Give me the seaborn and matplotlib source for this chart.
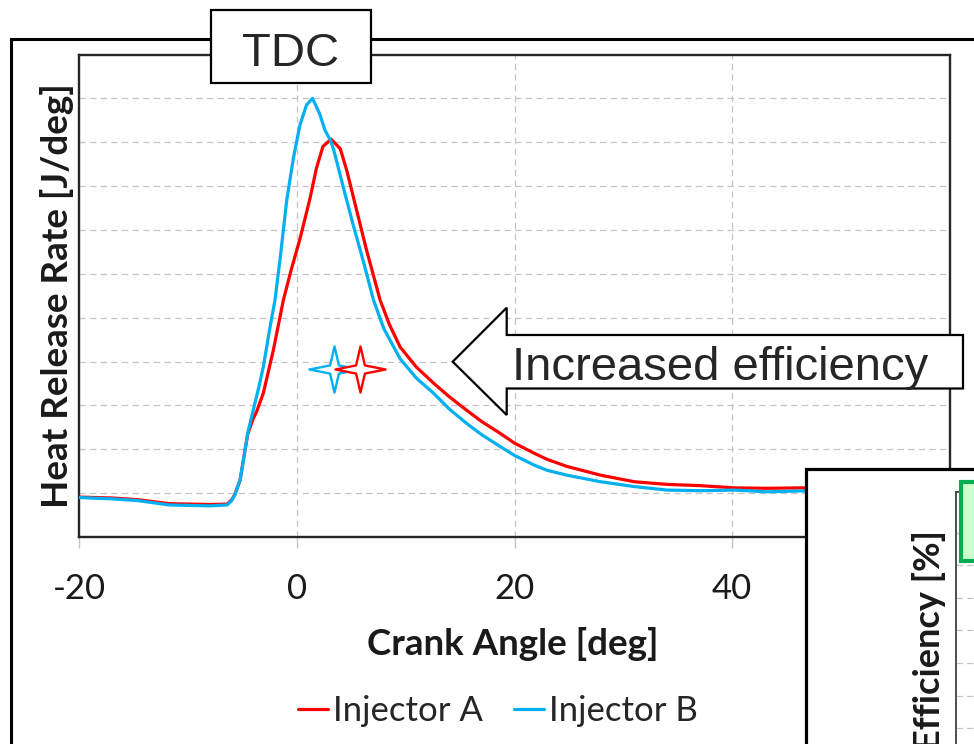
import matplotlib
matplotlib.use("Agg")
import matplotlib.pyplot as plt
from matplotlib.patches import Rectangle, Polygon
from matplotlib.lines import Line2D
from matplotlib.path import Path
import pandas as pd
import seaborn as sns

# heat release rate traces (crank angle [deg], HRR)
crank_a = [-20, -17, -14.6, -11.7, -8, -6.4, -6.0, -5.7, -5.2, -4.75,
           -4.5, -4.0, -3.7, -3.07, -2.15, -1.23, -0.5, 0.3, 1.2, 1.8,
           2.4, 3.15, 4.0, 4.6, 5.5, 6.4, 7.66, 8.5, 9.5, 11.0,
           12.6, 14.0, 15.6, 17.0, 18.7, 20.0, 21.8, 23.0, 24.8, 27.9,
           31.0, 34.0, 37.1, 40.2, 43.2, 46.3, 50, 55, 60]
hrr_a = [-0.9, -1.1, -1.5, -2.4, -2.6, -2.5, -1.6, -0.4, 3.0, 9.8,
         13.5, 17.0, 18.5, 22.8, 32.6, 44.0, 51.0, 58.0, 67.0, 74.0,
         79.0, 80.7, 78.5, 73.5, 64.5, 55.5, 44.0, 38.5, 33.3, 28.7,
         25.0, 22.0, 18.9, 16.3, 13.6, 11.4, 9.1, 7.7, 6.1, 4.1,
         2.6, 2.0, 1.7, 1.2, 1.1, 1.2, 1.0, 0.9, 0.9]

crank_b = [-20, -17, -14.6, -11.7, -8, -6.4, -6.0, -5.7, -5.2, -4.75,
           -4.5, -4.0, -3.5, -3.07, -2.45, -2.0, -1.5, -0.92, -0.3, 0.3,
           0.9, 1.45, 2.1, 2.6, 3.1, 3.4, 4.3, 5.2, 6.1, 7.05,
           8.0, 9.5, 11.0, 12.6, 14.0, 15.6, 17.0, 18.7, 20.0, 21.8,
           23.0, 24.8, 27.9, 31.0, 34.0, 37.1, 40.2, 43.2, 46.3, 50,
           55, 60]
hrr_b = [-1.0, -1.3, -1.7, -2.7, -2.9, -2.7, -1.8, -0.5, 3.0, 9.8,
         13.7, 18.9, 24.0, 28.8, 37.9, 44.0, 54.0, 66.8, 76.5, 84.0,
         88.5, 90.0, 86.5, 82.7, 80.4, 78.2, 69.5, 61.0, 53.0, 44.0,
         37.5, 30.6, 26.2, 22.7, 19.2, 15.9, 13.3, 10.6, 8.6, 6.4,
         5.2, 4.1, 2.6, 1.5, 0.7, 0.55, 0.7, 0.3, 0.5, 0.4,
         0.3, 0.3]

injectors = ["Injector A", "Injector B"]
colors = {"Injector A": "#ff0000", "Injector B": "#00b0f0"}

# star markers (B drawn first, A on top)
star_injector = ["Injector B", "Injector A"]
star_angle = [3.4, 5.8]
star_hrr = [28.3, 28.3]

x_ticks = [-20, 0, 20, 40]
y_grid = [0, 10, 20, 30, 40, 50, 60, 70, 80, 90]
inset_grid = [50, 48, 46, 44, 42, 40, 38, 36, 34, 32, 30, 28, 26, 24, 22]

sns.set_style("white")
plt.rcParams["font.family"] = ["Lato", "DejaVu Sans"]
plt.rcParams["axes.unicode_minus"] = False

W, H = 974, 744


def fx(px):
    return px / W


def fy(py):
    return 1 - py / H


fig = plt.figure(figsize=(W / 100, H / 100), dpi=100)
ax = fig.add_axes([fx(79), fy(537), fx(950) - fx(79), fy(54.5) - fy(537)])

df = pd.concat([
    pd.DataFrame({"angle": crank_a, "hrr": hrr_a, "injector": injectors[0]}),
    pd.DataFrame({"angle": crank_b, "hrr": hrr_b, "injector": injectors[1]}),
])
sns.lineplot(data=df, x="angle", y="hrr", hue="injector", hue_order=injectors,
             palette=colors, estimator=None, sort=False, lw=2.3, ax=ax,
             legend=False, zorder=3)

star = Path.unit_regular_star(4, innerCircle=0.25)
star = Path(star.vertices * [1.0, 0.92], star.codes)
for inj, xa, ya in zip(star_injector, star_angle, star_hrr):
    ax.scatter([xa], [ya], marker=star, s=1300, facecolor="white",
               edgecolor=colors[inj], linewidth=1.7, zorder=4)

ax.set_xlim(-20, 60)
ax.set_ylim(-10, 100)
ax.set_xticks(x_ticks)
ax.set_yticks(y_grid)
ax.set_xlabel("")
ax.set_ylabel("")
ax.grid(True, color="#c4c4c4", lw=0.9, ls=(0, (5, 3.5)))
ax.tick_params(axis="y", length=0, labelleft=False)
ax.tick_params(axis="x", direction="out", length=8, width=1, color="#c4c4c4",
               labelsize=25, labelcolor="#1a1a1a", pad=18, bottom=True)
for s in ax.spines.values():
    s.set_visible(True)
    s.set_color("#262626")
    s.set_linewidth(1.7)

fig.text(fx(513), fy(655), "Crank Angle [deg]", ha="center", va="baseline",
         fontsize=26.5, fontweight="bold", color="#1a1a1a")
fig.text(fx(68), fy(296), "Heat Release Rate [J/deg]", rotation=90,
         rotation_mode="anchor", ha="center", va="baseline",
         fontsize=26.5, fontweight="bold", color="#1a1a1a")

handles = [Line2D([], [], color=colors[i], lw=2.3) for i in injectors]
fig.legend(handles, injectors, loc="center", bbox_to_anchor=(fx(498), fy(711)),
           ncol=2, frameon=False, fontsize=25, handlelength=0.85,
           handletextpad=0.15, columnspacing=0.9, borderaxespad=0)

# outer chart frame
fig.patches.append(Rectangle((fx(11), -0.5), 1.5, fy(39) + 0.5, fill=False,
                             ec="black", lw=2.2, transform=fig.transFigure,
                             zorder=1))

# TDC label box
fig.patches.append(Rectangle((fx(211), fy(83)), fx(371) - fx(211),
                             fy(10) - fy(83), fc="white", ec="black", lw=1.6,
                             transform=fig.transFigure, zorder=5))
fig.text(fx(291), fy(66.5), "TDC", ha="center", va="baseline", fontsize=34,
         family="Liberation Sans", zorder=6)

# block arrow
arrow_px = [(452.7, 361.7), (506.7, 307.7), (506.7, 335), (963, 335),
            (963, 388.5), (506.7, 388.5), (506.7, 415)]
fig.patches.append(Polygon([(fx(a), fy(b)) for a, b in arrow_px], closed=True,
                           fc="white", ec="black", lw=1.6, joinstyle="miter",
                           transform=fig.transFigure, zorder=3))
fig.text(fx(512), fy(380), "Increased efficiency", ha="left", va="baseline",
         fontsize=34, family="Liberation Sans", zorder=4)

# inset efficiency chart (cut off by the slide edge)
fig.patches.append(Rectangle((fx(806), -0.5), 1.5, fy(469) + 0.5, fc="white",
                             ec="black", lw=2.3, transform=fig.transFigure,
                             zorder=4))
ax2 = fig.add_axes([fx(956), fy(1000), 0.5, fy(492) - fy(1000)], zorder=5)
ax2.set_facecolor("white")
ax2.set_ylim(21.3, 52.5)
ax2.set_xlim(0, 1)
ax2.set_yticks(inset_grid)
ax2.set_xticks([])
ax2.grid(True, axis="y", color="#c4c4c4", lw=0.9, ls=(0, (5, 3.5)))
ax2.tick_params(axis="y", length=0, labelleft=False)
for k, s in ax2.spines.items():
    s.set_color("#404040")
    s.set_linewidth(1.3)
    s.set_visible(k in ("left", "top"))
fig.text(fx(940), fy(530), "Efficiency [%]", rotation=90, rotation_mode="anchor",
         ha="right", va="baseline", fontsize=26, fontweight="bold",
         color="#1a1a1a", zorder=6)
fig.patches.append(Rectangle((fx(961), fy(561)), 0.3, fy(482) - fy(561),
                             fc="#ccffcc", ec="#00b050", lw=3,
                             transform=fig.transFigure, zorder=7))

fig.savefig("out.png", dpi=100)
